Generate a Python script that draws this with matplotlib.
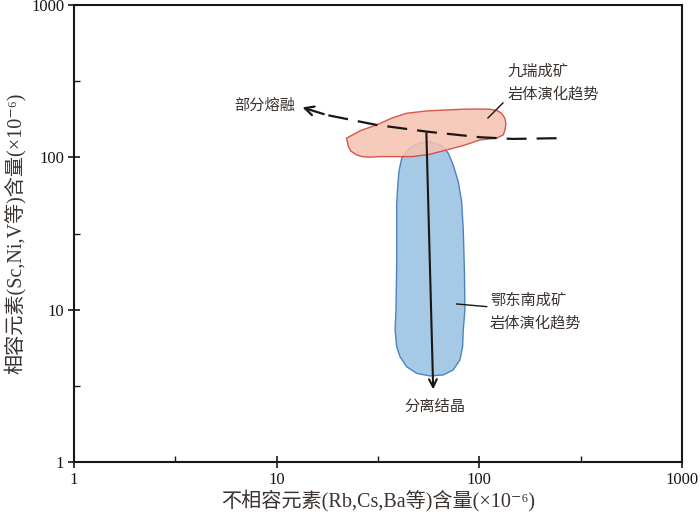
import numpy as np
import matplotlib
matplotlib.use('Agg')
import matplotlib.pyplot as plt
from matplotlib.ticker import FixedLocator, FixedFormatter

plt.rcParams['font.family'] = ['Liberation Serif', 'Noto Sans CJK SC', 'DejaVu Serif']

# 九瑞成矿岩体演化趋势 outline (x: incompatible, y: compatible, ppm)
jr_x = [22.1, 26.0, 31.1, 37.0, 43.8, 55.0, 68.0, 83.0, 100.0, 112.8, 122.0, 128.8,
        133.5, 135.3, 134.0, 131.2, 121.7, 100.7, 83.3, 69.0, 57.1, 47.0, 38.0,
        32.3, 28.9, 26.5, 24.8, 23.2, 22.6]
jr_y = [133.5, 150.0, 163.2, 181.0, 194.8, 201.7, 204.5, 206.9, 207.5, 206.9, 203.0, 194.8,
        181.0, 167.4, 152.0, 140.3, 133.5, 130.1, 119.4, 111.8, 104.8, 101.1, 101.1,
        101.1, 100.2, 101.0, 103.7, 110.0, 117.5]

# 鄂东南成矿岩体演化趋势 outline
eds_x = [57.1, 65.2, 70.3, 74.3, 78.7, 81.8, 83.3, 84.4, 84.9, 83.3, 82.7, 80.2, 74.3,
         66.4, 57.1, 49.1, 43.8, 40.6, 39.1, 38.4, 38.8, 39.1, 39.1, 39.4, 40.1, 41.4,
         42.9, 46.4, 50.9]
eds_y = [126.8, 119.4, 106.4, 89.1, 69.3, 51.2, 33.4, 18.2, 9.95, 7.36, 5.72, 4.68, 4.02,
         3.73, 3.67, 3.82, 4.22, 4.91, 5.72, 7.36, 9.95, 20.3, 48.7, 59.5, 80.6, 98.7,
         106.4, 117.5, 124.3]

# 部分熔融 trend (dashed, arrow at the end)
pm_x = [240.6, 146.5, 100.7, 55.0, 31.1, 17.6, 13.0]
pm_y = [133.5, 132.1, 135.5, 147.5, 163.2, 189.8, 215.3]

# 分离结晶 trend
fc_x = [54.8, 59.2]
fc_y = [144.0, 3.0]

ticks = [1, 10, 100, 1000]
tick_labels = ['1', '10', '100', '1000']

txt_c = '#3a3330'
ink = '#1a1614'

fig = plt.figure(figsize=(7, 5.15), dpi=100)
ax = fig.add_axes([0.1057, 0.1029, 0.8686, 0.8874])
ax.set_xscale('log')
ax.set_yscale('log')
ax.set_xlim(1, 1000)
ax.set_ylim(1, 1000)

ax.fill(eds_x, eds_y, facecolor='#a6c9e5', edgecolor='#4d82c2', lw=1.0, zorder=2)
ax.fill(jr_x, jr_y, facecolor='#f5c2b1', edgecolor='#d23d33', lw=1.0, alpha=0.85, zorder=3)

ax.plot(pm_x[:-1], pm_y[:-1], color=ink, lw=1.6, dashes=(9, 4.5), zorder=4)
ax.annotate('', xy=(pm_x[-1], pm_y[-1]), xytext=(pm_x[-2], pm_y[-2]),
            arrowprops=dict(arrowstyle='->', color=ink, lw=1.6, mutation_scale=16), zorder=4)
ax.annotate('', xy=(fc_x[1], fc_y[1]), xytext=(fc_x[0], fc_y[0]),
            arrowprops=dict(arrowstyle='->', color=ink, lw=1.5, mutation_scale=14,
                            shrinkA=0, shrinkB=0), zorder=5)

# leader lines
ax.plot([110.3, 130.8], [181.4, 227.5], color=ink, lw=1.0, zorder=5)
ax.plot([77.3, 108.7], [10.9, 10.47], color=ink, lw=1.0, zorder=5)

cjk = ['Noto Sans CJK SC']
ax.text(12.3, 220.8, '部分熔融', ha='right', va='center', fontsize=11, color=txt_c, family=cjk)
ax.text(138.4, 310, '九瑞成矿\n岩体演化趋势', ha='left', va='center', fontsize=11,
        color=txt_c, family=cjk, linespacing=1.45)
ax.text(112.8, 9.76, '鄂东南成矿\n岩体演化趋势', ha='left', va='center', fontsize=11,
        color=txt_c, family=cjk, linespacing=1.45)
ax.text(60.4, 2.31, '分离结晶', ha='center', va='center', fontsize=11, color=txt_c, family=cjk)

for a in (ax.xaxis, ax.yaxis):
    a.set_major_locator(FixedLocator(ticks))
    a.set_major_formatter(FixedFormatter(tick_labels))
    a.set_minor_locator(FixedLocator([10 ** 0.5, 10 ** 1.5, 10 ** 2.5]))
    a.set_minor_formatter(FixedFormatter(['', '', '']))
ax.tick_params(which='major', direction='inout', length=8, width=1.2, labelsize=12,
               colors=ink, pad=3)
ax.tick_params(which='minor', direction='in', length=4, width=1.0, colors=ink)
for s in ax.spines.values():
    s.set_linewidth(1.5)
    s.set_color(ink)

ax.set_xlabel('不相容元素(Rb,Cs,Ba等)含量(×10⁻⁶)', fontsize=14.5, color=txt_c, labelpad=1)
ax.set_ylabel('相容元素(Sc,Ni,V等)含量(×10⁻⁶)', fontsize=14.5, color=txt_c, labelpad=4)

fig.savefig('out.png', dpi=100)
